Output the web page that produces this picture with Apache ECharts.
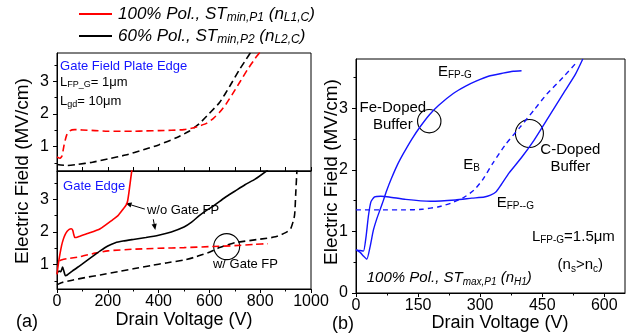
<!DOCTYPE html>
<html>
<head>
<meta charset="utf-8">
<script src="https://cdn.jsdelivr.net/npm/echarts@6/dist/echarts.min.js"></script>
<style>
  html, body { margin: 0; padding: 0; background: #fff; }
  #chart { width: 633px; height: 335px; }
</style>
</head>
<body>
<div id="chart"></div>
<script>
// ---- Panel (a), upper part: gate field plate edge ----
const fpEdgeRedV = [0, 12, 20, 28, 38, 50, 70, 100, 150, 200, 250, 300, 350, 400, 450, 500, 530, 560, 590, 615, 640, 665, 690, 720, 750, 780, 805];
const fpEdgeRedE = [0.68, 0.64, 0.72, 1.05, 1.35, 1.48, 1.52, 1.51, 1.49, 1.47, 1.47, 1.47, 1.48, 1.49, 1.5, 1.52, 1.56, 1.63, 1.72, 1.86, 2.05, 2.3, 2.6, 2.98, 3.36, 3.7, 3.95];
const fpEdgeBlackV = [0, 40, 80, 140, 200, 270, 340, 400, 470, 520, 560, 600, 640, 680, 720, 745, 765];
const fpEdgeBlackE = [0.45, 0.42, 0.45, 0.52, 0.62, 0.74, 0.9, 1.05, 1.27, 1.47, 1.7, 2.02, 2.35, 2.85, 3.38, 3.68, 3.92];

// ---- Panel (a), lower part: gate edge ----
const gateNoFpRedV = [0, 5, 10, 18, 25, 32, 40, 48, 56, 62, 66, 70, 75, 90, 120, 170, 220, 240, 262, 272, 278, 283, 288, 293, 296];
const gateNoFpRedE = [0.7, 1.0, 1.25, 1.58, 1.78, 1.92, 2.02, 2.08, 2.1, 2.05, 1.92, 1.83, 1.83, 1.87, 1.95, 2.1, 2.38, 2.5, 2.72, 2.82, 2.95, 3.2, 3.5, 3.8, 3.95];
const gateNoFpBlackV = [0, 8, 15, 22, 27, 33, 40, 60, 100, 140, 170, 200, 230, 260, 300, 350, 400, 450, 500, 530, 560, 590, 620, 660, 700, 740, 780, 830];
const gateNoFpBlackE = [0.72, 0.8, 0.78, 0.92, 0.8, 0.66, 0.68, 0.8, 1.02, 1.25, 1.42, 1.57, 1.67, 1.72, 1.77, 1.83, 1.9, 2.0, 2.15, 2.3, 2.5, 2.67, 2.82, 3.05, 3.25, 3.45, 3.62, 3.9];
const gateFpRedV = [10, 20, 40, 90, 150, 200, 300, 400, 500, 600, 700, 780, 830];
const gateFpRedE = [1.12, 1.15, 1.18, 1.24, 1.35, 1.42, 1.47, 1.5, 1.52, 1.55, 1.58, 1.62, 1.64];
const gateFpBlackV = [0, 20, 60, 110, 170, 240, 300, 370, 430, 500, 540, 570, 600, 640, 670, 700, 800, 860, 900, 920, 935, 940, 945];
const gateFpBlackE = [0.38, 0.45, 0.52, 0.6, 0.68, 0.78, 0.87, 0.97, 1.05, 1.14, 1.22, 1.3, 1.38, 1.52, 1.6, 1.67, 1.78, 1.85, 1.98, 2.1, 2.5, 3.2, 3.95];

// ---- Panel (b): 100% polarization, STmax,P1 ----
const feFpgV = [0, 10, 18, 26, 34, 42, 50, 58, 66, 74, 85, 100, 115, 135, 155, 178, 200, 235, 265, 290, 320, 355, 380, 400];
const feFpgE = [0.7, 0.66, 0.6, 0.55, 0.75, 1.02, 1.2, 1.35, 1.5, 1.66, 1.85, 2.08, 2.27, 2.5, 2.7, 2.9, 3.05, 3.24, 3.36, 3.44, 3.52, 3.57, 3.6, 3.61];
const cFpgV = [0, 10, 18, 24, 30, 36, 45, 60, 80, 120, 180, 240, 280, 310, 325, 338, 350, 370, 400, 430, 460, 500, 530, 548];
const cFpgE = [0.7, 0.69, 0.68, 0.9, 1.25, 1.48, 1.56, 1.57, 1.56, 1.52, 1.49, 1.51, 1.54, 1.56, 1.59, 1.64, 1.75, 1.95, 2.2, 2.48, 2.8, 3.23, 3.55, 3.8];
const bufferEbV = [0, 60, 120, 160, 200, 230, 260, 285, 305, 330, 360, 396, 430, 461, 500, 535];
const bufferEbE = [1.35, 1.35, 1.35, 1.36, 1.4, 1.46, 1.55, 1.67, 1.83, 2.1, 2.4, 2.69, 2.97, 3.23, 3.5, 3.76];

// ---- Tick labels ----
const leftXTicks = [0, 200, 400, 600, 800, 1000];
const leftYTicks = [1, 2, 3];
const leftYMinor = [0.5, 1.5, 2.5, 3.5];
const rightXTicks = [0, 150, 300, 450, 600];
const rightXMinor = [75, 225, 375, 525];
const rightYTicks = [0, 1, 2, 3];
const rightYMinor = [0.5, 1.5, 2.5, 3.5];

const FONT = 'Liberation Sans';
const RED = '#ff0000', BLACK = '#000000', BLUE = '#1414ff';

function pairs(xs, ys) { return xs.map((x, i) => [x, ys[i]]); }

function lineSeries(xi, yi, xs, ys, color, dash, width) {
  return {
    type: 'line', xAxisIndex: xi, yAxisIndex: yi,
    data: pairs(xs, ys), showSymbol: false, symbol: 'none',
    smooth: 0.2, clip: true, animation: false,
    lineStyle: { color: color, width: width || 1.6, type: dash || 'solid' }
  };
}

const tickLabel = { fontFamily: FONT, fontSize: 16, color: '#000', formatter: v => String(v) };

function mainY(grid, min, max, ticks) {
  return {
    type: 'value', gridIndex: grid, min: min, max: max, position: 'left',
    axisLine: { show: true, lineStyle: { color: '#000', width: 1 } },
    axisTick: { show: true, inside: false, length: 4, customValues: ticks, lineStyle: { color: '#000' } },
    axisLabel: Object.assign({ show: true, margin: 8, customValues: ticks }, tickLabel),
    splitLine: { show: false }
  };
}
function minorY(grid, min, max, ticks) {
  return {
    type: 'value', gridIndex: grid, min: min, max: max, position: 'left', offset: 0,
    axisLine: { show: false },
    axisTick: { show: true, inside: false, length: 2.5, customValues: ticks, lineStyle: { color: '#000' } },
    axisLabel: { show: false },
    splitLine: { show: false }
  };
}

const chart = echarts.init(document.getElementById('chart'), null, { renderer: 'canvas' });

const Y_MIN = 0.25, Y_MAX = 3.87;

chart.setOption({
  animation: false,
  backgroundColor: '#fff',
  grid: [
    { left: 57, top: 53, width: 254, height: 118, show: true, borderColor: '#000', borderWidth: 1, containLabel: false },
    { left: 57, top: 171, width: 254, height: 118, show: true, borderColor: '#000', borderWidth: 1, containLabel: false },
    { left: 356, top: 59, width: 269, height: 234, show: true, borderColor: '#000', borderWidth: 1, containLabel: false }
  ],
  xAxis: [
    { type: 'value', gridIndex: 0, min: 0, max: 1000, interval: 100, position: 'bottom',
      axisLine: { show: true, lineStyle: { color: '#000' } },
      axisTick: { show: true, inside: true, length: 4, lineStyle: { color: '#000' } },
      axisLabel: { show: false }, splitLine: { show: false } },
    { type: 'value', gridIndex: 1, min: 0, max: 1000, interval: 200, position: 'bottom',
      axisLine: { show: true, lineStyle: { color: '#000' } },
      axisTick: { show: true, inside: false, length: 4, lineStyle: { color: '#000' } },
      minorTick: { show: true, splitNumber: 2, length: 2.5, lineStyle: { color: '#000' } },
      axisLabel: Object.assign({ show: true, margin: 5, customValues: leftXTicks }, tickLabel),
      splitLine: { show: false } },
    { type: 'value', gridIndex: 2, min: 0, max: 650, position: 'bottom',
      axisLine: { show: true, lineStyle: { color: '#000' } },
      axisTick: { show: true, inside: false, length: 4, customValues: rightXTicks, lineStyle: { color: '#000' } },
      axisLabel: Object.assign({ show: true, margin: 5, customValues: rightXTicks }, tickLabel),
      splitLine: { show: false } },
    { type: 'value', gridIndex: 2, min: 0, max: 650, position: 'bottom', offset: 0,
      axisLine: { show: false },
      axisTick: { show: true, inside: false, length: 2.5, customValues: rightXMinor, lineStyle: { color: '#000' } },
      axisLabel: { show: false }, splitLine: { show: false } }
  ],
  yAxis: [
    mainY(0, Y_MIN, Y_MAX, leftYTicks),
    minorY(0, Y_MIN, Y_MAX, leftYMinor),
    mainY(1, Y_MIN, Y_MAX, leftYTicks),
    minorY(1, Y_MIN, Y_MAX, leftYMinor),
    mainY(2, 0, 3.8, rightYTicks),
    minorY(2, 0, 3.8, rightYMinor)
  ],
  series: [
    lineSeries(0, 0, fpEdgeBlackV, fpEdgeBlackE, BLACK, [7, 4]),
    lineSeries(0, 0, fpEdgeRedV, fpEdgeRedE, RED, [7, 4]),
    lineSeries(1, 2, gateFpBlackV, gateFpBlackE, BLACK, [7, 4]),
    lineSeries(1, 2, gateFpRedV, gateFpRedE, RED, [7, 4]),
    lineSeries(1, 2, gateNoFpBlackV, gateNoFpBlackE, BLACK),
    lineSeries(1, 2, gateNoFpRedV, gateNoFpRedE, RED),
    lineSeries(2, 4, bufferEbV, bufferEbE, BLUE, [5, 4], 1.4),
    lineSeries(2, 4, feFpgV, feFpgE, BLUE, 'solid', 1.4),
    lineSeries(2, 4, cFpgV, cFpgE, BLUE, 'solid', 1.4)
  ]
});

// ---- Annotations, placed in data coordinates of each panel ----
function richStyle(size, italic, color) {
  const fs = italic ? 'italic' : 'normal';
  return {
    m: { fontFamily: FONT, fontSize: size, fontStyle: fs, lineHeight: size + 2, fill: color, color: color },
    s: { fontFamily: FONT, fontSize: Math.round(size * 0.68), fontStyle: fs, lineHeight: Math.round(size * 0.45), verticalAlign: 'bottom', fill: color, color: color }
  };
}

const notes = [
  { g: 0, at: [12, 3.47], text: '{m|Gate Field Plate Edge}', size: 13, color: BLUE },
  { g: 0, at: [12, 2.98], text: '{m|L}{s|FP_G}{m|= 1\u03bcm}', size: 13, color: BLACK },
  { g: 0, at: [12, 2.37], text: '{m|L}{s|gd}{m|= 10\u03bcm}', size: 13, color: BLACK },
  { g: 1, at: [24, 3.41], text: '{m|Gate Edge}', size: 13, color: BLUE },
  { g: 1, at: [354, 2.65], text: '{m|w/o Gate FP}', size: 13, color: BLACK },
  { g: 1, at: [614, 0.99], text: '{m|w/ Gate FP}', size: 13, color: BLACK },
  { g: 2, at: [198, 3.59], text: '{m|E}{s|FP-G}', size: 15, color: BLACK },
  { g: 2, at: [259, 2.08], text: '{m|E}{s|B}', size: 15, color: BLACK },
  { g: 2, at: [340, 1.46], text: '{m|E}{s|FP--G}', size: 15, color: BLACK },
  { g: 2, at: [425, 0.91], text: '{m|L}{s|FP-G}{m|=1.5\u03bcm}', size: 15, color: BLACK },
  { g: 2, at: [487, 0.45], text: '{m|(n}{s|s}{m|>n}{s|c}{m|)}', size: 15, color: BLACK },
  { g: 2, at: [26, 0.24], text: '{m|100% Pol., ST}{s|max,P1}{m| (n}{s|H1}{m|)}', size: 15, color: BLACK, italic: true },
  { g: 2, at: [89, 2.87], text: '{m|Fe-Doped}\n{m|Buffer}', size: 15, color: BLACK, align: 'center', lh: 17 },
  { g: 2, at: [518, 2.18], text: '{m|C-Doped}\n{m|Buffer}', size: 15, color: BLACK, align: 'center', lh: 17 }
];
const rings = [
  { g: 1, at: [668, 1.55], r: 13 },
  { g: 2, at: [177, 2.79], r: 11.7 },
  { g: 2, at: [419, 2.59], r: 14 }
];
const pointers = [
  { g: 1, from: [346, 2.70], to: [270, 2.88] },
  { g: 1, from: [379, 2.39], to: [387, 2.06] }
];

function px(g, pt) { return chart.convertToPixel({ gridIndex: g }, pt); }

const graphics = [];

notes.forEach(n => {
  const p = px(n.g, n.at);
  const rich = richStyle(n.size, n.italic, n.color);
  if (n.lh) { rich.m.lineHeight = n.lh; }
  graphics.push({
    type: 'text', x: p[0], y: p[1], silent: true,
    style: { text: n.text, rich: rich, align: n.align || 'left', verticalAlign: 'middle',
             fontFamily: FONT, fontSize: n.size, fill: n.color }
  });
});

rings.forEach(c => {
  const p = px(c.g, c.at);
  graphics.push({ type: 'circle', shape: { cx: p[0], cy: p[1], r: c.r }, silent: true,
                  style: { fill: 'none', stroke: '#000', lineWidth: 1.1 } });
});

pointers.forEach(a => {
  const p0 = px(a.g, a.from), p1 = px(a.g, a.to);
  const dx = p1[0] - p0[0], dy = p1[1] - p0[1], L = Math.hypot(dx, dy);
  const ux = dx / L, uy = dy / L, hl = 6, hw = 2.6;
  const bx = p1[0] - ux * hl, by = p1[1] - uy * hl;
  graphics.push({ type: 'line', silent: true, shape: { x1: p0[0], y1: p0[1], x2: bx, y2: by },
                  style: { stroke: '#000', lineWidth: 1 } });
  graphics.push({ type: 'polygon', silent: true,
                  shape: { points: [[p1[0], p1[1]], [bx - uy * hw, by + ux * hw], [bx + uy * hw, by - ux * hw]] },
                  style: { fill: '#000' } });
});

// Legend rows
const legendRows = [
  { color: RED, y: 14, text: '{m|100% Pol., ST}{s|min,P1}{m| (n}{s|L1,C}{m|)}' },
  { color: BLACK, y: 36, text: '{m|60% Pol., ST}{s|min,P2}{m| (n}{s|L2,C}{m|)}' }
];
legendRows.forEach(r => {
  graphics.push({ type: 'line', silent: true, shape: { x1: 79, y1: r.y, x2: 112, y2: r.y },
                  style: { stroke: r.color, lineWidth: 1.8 } });
  graphics.push({ type: 'text', x: 118, y: r.y, silent: true,
                  style: { text: r.text, rich: richStyle(17, true, '#000'), align: 'left', verticalAlign: 'middle',
                           fontFamily: FONT, fontSize: 17, fill: '#000' } });
});

// Axis titles and panel tags
function plain(text, x, y, size, rot) {
  return { type: 'text', x: x, y: y, rotation: rot || 0, silent: true,
           style: { text: text, fontFamily: FONT, fontSize: size, fill: '#000', align: 'center', verticalAlign: 'middle' } };
}
graphics.push(plain('Electric Field (MV/cm)', 23, 171, 19, Math.PI / 2));
graphics.push(plain('Electric Field (MV/cm)', 332, 172, 19, Math.PI / 2));
graphics.push(plain('Drain Voltage (V)', 184, 320, 18));
graphics.push(plain('Drain Voltage (V)', 500, 323, 18));
graphics.push(plain('(a)', 27, 322, 18));
graphics.push(plain('(b)', 343, 324, 18));

chart.setOption({ graphic: graphics });
</script>
</body>
</html>
